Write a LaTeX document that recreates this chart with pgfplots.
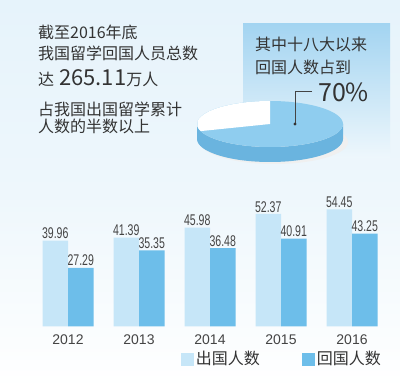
\documentclass[border=0pt]{standalone}
\usepackage{pgfplots}
\pgfplotsset{compat=1.18}
\usepackage{fontspec}
\setmainfont{Liberation Sans}
\newfontfamily\cjk{Noto Sans CJK SC}
\newfontfamily\narrow[FakeStretch=0.68]{Liberation Sans}
\usetikzlibrary{calc}
\definecolor{bgtop}{HTML}{E6F3FB}
\definecolor{bgmid}{HTML}{EEF7FC}
\definecolor{barlight}{HTML}{C6E6F8}
\definecolor{bardark}{HTML}{6DBEEA}
\definecolor{pietop}{HTML}{8FCDEF}
\definecolor{pieside}{HTML}{6AB4DF}
\definecolor{boxtop}{HTML}{A3D4F1}
\definecolor{txt}{HTML}{333333}
\definecolor{numtxt}{HTML}{444444}
\begin{document}
\begin{tikzpicture}[x=1bp,y=1bp]
\useasboundingbox (0,0) rectangle (400,388);
% background
\shade[top color=bgtop, bottom color=white, middle color=bgmid] (0,0) rectangle (400,388);
% box behind pie
\shade[top color=boxtop, bottom color=bgmid] (243,230) rectangle (390,364);
% pie (70%)
\pgfmathsetmacro{\share}{70}
\pgfmathsetmacro{\endang}{90+360*(100-\share)/100}
\coordinate (C) at (270,264);
\fill[black!6] ($(C)+(4,-18)$) ellipse [x radius=74, y radius=22];
\fill[pieside] ($(C)+(-73,0)$) arc[start angle=180, end angle=360, x radius=73, y radius=23] -- ++(0,-15) arc[start angle=360, end angle=180, x radius=73, y radius=23] -- cycle;
\fill[pietop] (C) ellipse [x radius=73, y radius=23];
\fill[white] (C) -- ($(C)+(0,23)$) arc[start angle=90, end angle=\endang, x radius=73, y radius=23] -- cycle;
\draw[numtxt, line width=0.6pt] (312,297) -- (295,297) -- (295,264);
\fill[black!80] (295,264) circle (1.6);
% texts
\begin{scope}[every node/.style={anchor=west, inner sep=0pt, text=txt, font=\cjk\fontsize{16bp}{16bp}\selectfont}]
\node at (38,356) {截至2016年底};
\node at (38,335) {我国留学回国人员总数};
\node at (38,310) {达\hspace{5bp}{\fontsize{22bp}{22bp}\selectfont 265.11}万人};
\node at (38,279) {占我国出国留学累计};
\node at (38,262) {人数的半数以上};
\node at (255,344) {其中十八大以来};
\node at (255,321) {回国人数占到};
\node at (318,296) {\fontsize{25bp}{25bp}\selectfont 70\%};
\end{scope}
\begin{axis}[
  at={(4.1bp,61.5bp)}, anchor=south west, scale only axis,
  width=390.5bp, height=129bp,
  xmin=-0.9, xmax=4.6, ymin=0, ymax=60,
  ybar=0pt, bar width=25.5bp,
  axis line style={draw=none}, tick style={draw=none},
  ytick=\empty, xtick=data, xticklabels={2012,2013,2014,2015,2016},
  xticklabel style={font=\fontsize{14bp}{14bp}\selectfont, text=numtxt},
  /pgf/number format/assume math mode=true,
  /pgf/number format/fixed, /pgf/number format/precision=2,
  /pgf/number format/fixed zerofill,
  nodes near coords,
  nodes near coords style={font=\narrow\fontsize{15.5bp}{15.5bp}\selectfont, text=numtxt, inner sep=1.5pt},
  clip=false,
  legend columns=2,
  legend style={at={(0.452,-0.252)}, anchor=west, draw=none, fill=none, inner sep=0pt,
    font=\cjk\fontsize{16bp}{16bp}\selectfont, text=txt,
    /tikz/every even column/.style={column sep=40bp}},
]
\addplot[fill=barlight, draw=none, legend image code/.code={\fill[barlight] (0bp,-6.5bp) rectangle (13bp,6.5bp);}]
  coordinates {(0,39.96) (1,41.39) (2,45.98) (3,52.37) (4,54.45)};
\addplot[fill=bardark, draw=none, legend image code/.code={\fill[bardark] (0bp,-6.5bp) rectangle (13bp,6.5bp);}]
  coordinates {(0,27.29) (1,35.35) (2,36.48) (3,40.91) (4,43.25)};
\legend{出国人数,回国人数}
\end{axis}
\end{tikzpicture}
\end{document}
